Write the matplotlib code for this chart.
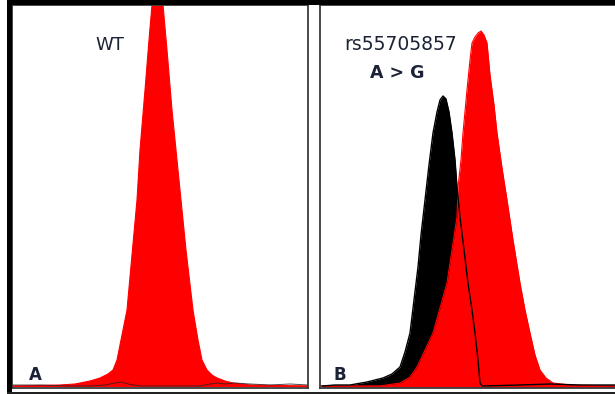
import matplotlib
matplotlib.use("Agg")
import matplotlib.pyplot as plt
from matplotlib.patches import Rectangle

# ---------------- data ----------------
# Panel A: wild type, single red (G) peak
a_red_x = [2, 50, 65, 80, 90, 98, 103, 107, 112, 117, 122, 127, 130, 135, 139, 142,
           147, 153, 157, 162, 167, 170, 176, 183, 188, 192, 197, 202, 207, 215, 223, 240, 298]
a_red_y = [1, 2, 3, 6, 9, 13, 17, 27, 52, 77, 132, 187, 237, 297, 347, 382,
           447, 382, 337, 277, 227, 197, 137, 77, 47, 27, 17, 12, 9, 6, 4, 2, 1]
a_black_x = [2, 30, 60, 80, 95, 105, 112, 118, 130, 190, 200, 207, 215, 225, 240, 260, 280, 298]
a_black_y = [2, 2, 1, 1, 2, 4, 5, 3, 1, 1, 3, 4, 3, 4, 3, 2, 3, 2]
a_base_x = [0, 40, 80, 120, 160, 200, 240, 280, 298]
a_base_y = [1, 0.5, 1, 0.5, 1, 0.5, 1, 0.5, 1]

# Panel B: rs55705857 A > G, black (A) and red (G) peaks
b_red_x = [2, 60, 80, 90, 97, 105, 113, 120, 127, 132, 137, 138, 141, 143, 147, 150, 152,
           155, 158, 161, 164, 167, 170, 174, 177, 182, 187, 193, 200, 205, 210, 215, 220, 226, 233, 250, 295]
b_red_y = [1, 1, 4, 10, 20, 37, 54, 79, 104, 137, 170, 200, 227, 254, 297, 327, 344,
           350, 354, 356, 352, 344, 312, 282, 254, 219, 187, 147, 104, 77, 54, 32, 17, 9, 4, 2, 1]
b_black_x = [2, 15, 30, 47, 63, 72, 80, 85, 90, 94, 98, 101, 105, 109, 113, 117, 120, 123,
             126, 129, 132, 135, 137, 140, 144, 148, 152, 155, 158, 160, 162, 200, 230, 260, 295]
b_black_y = [1, 2, 2, 5, 9, 13, 20, 35, 54, 87, 120, 152, 187, 222, 254, 275, 287, 291,
             288, 275, 254, 227, 200, 170, 137, 104, 77, 54, 27, 4, 1, 2, 3, 2, 2]
b_base_x = [0, 40, 80, 120, 160, 200, 240, 280, 295]
b_base_y = [1, 0.5, 1, 0.5, 1, 0.5, 1, 0.5, 1]

panel_letters = ["A", "B"]
wt_label = "WT"
snp_label = "rs55705857"
change_label = "A > G"

RED = "#ff0000"
TXT = "#1c2235"
W, H = 615, 394

fig = plt.figure(figsize=(W / 100, H / 100), dpi=100)
fig.patch.set_facecolor("white")


def pix_axes(x0, x1, y0, y1):
    return fig.add_axes([x0 / W, (H - y1) / H, (x1 - x0) / W, (y1 - y0) / H])


axA = pix_axes(12, 308, 5, 388)
axB = pix_axes(320, 616, 5, 388)

for ax in (axA, axB):
    ax.set_ylim(-1, 382)
    ax.set_xticks([])
    ax.set_yticks([])
    for s in ax.spines.values():
        s.set_color("#3a3a3a")
        s.set_linewidth(1.3)

axA.set_xlim(2, 298)
axB.set_xlim(0, 296)

# Panel A
axA.plot(a_base_x, a_base_y, color=RED, lw=0.8, alpha=0.7)
axA.fill_between(a_red_x, a_red_y, 0, color=RED, lw=0)
axA.plot(a_red_x, a_red_y, color=RED, lw=0.8)
axA.plot(a_black_x, a_black_y, color="#222222", lw=0.7, alpha=0.8)

# Panel B
axB.plot(b_base_x, b_base_y, color=RED, lw=0.8, alpha=0.7)
axB.fill_between(b_black_x, b_black_y, 0, color="black", lw=0)
axB.fill_between(b_red_x, b_red_y, 0, color=RED, lw=0)
axB.plot(b_red_x, b_red_y, color=RED, lw=0.8)
axB.plot(b_black_x, b_black_y, color="black", lw=1.0)

# labels
axA.text(100, 342, wt_label, color=TXT, fontsize=13, ha="center", va="center",
         family="DejaVu Sans")
axB.text(81, 342, snp_label, color=TXT, fontsize=13.5, ha="center", va="center",
         family="DejaVu Sans")
axB.text(77, 314, change_label, color=TXT, fontsize=12.5, fontweight="bold",
         ha="center", va="center", family="DejaVu Sans")
axA.text(25, 12, panel_letters[0], color=TXT, fontsize=12, fontweight="bold",
         ha="center", va="center", family="DejaVu Sans")
axB.text(20, 12, panel_letters[1], color=TXT, fontsize=12, fontweight="bold",
         ha="center", va="center", family="DejaVu Sans")

# outer frame (thick top/left/bottom borders)
fig.add_artist(Rectangle((7 / W, (H - 5) / H), (W - 7) / W, 5 / H,
                         transform=fig.transFigure, color="black", lw=0))
fig.add_artist(Rectangle((7 / W, 0), 5 / W, 1, transform=fig.transFigure,
                         color="black", lw=0))
fig.add_artist(Rectangle((7 / W, 0), (W - 7) / W, 2.5 / H, transform=fig.transFigure,
                         color="#222222", lw=0))

fig.savefig("out.png", dpi=100)
